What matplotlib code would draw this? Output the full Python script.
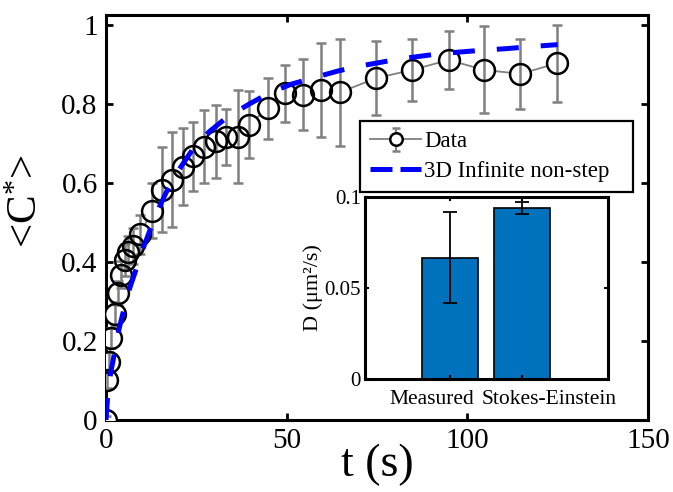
import numpy as np
import matplotlib
matplotlib.use('Agg')
import matplotlib.pyplot as plt

# ---- data ----
t_data = [0, 0.2, 0.8, 1.5, 2.4, 3.3, 4.2, 5.2, 6.0, 7.5, 9.5, 12.6, 15.5, 18.4,
          21.2, 24.0, 27.2, 30.5, 33.2, 36.5, 39.5, 44.8, 49.6, 54.6, 59.6, 64.7,
          74.7, 84.7, 94.8, 104.7, 114.7, 124.9]
c_data = [0, 0.10, 0.148, 0.208, 0.268, 0.321, 0.368, 0.405, 0.425, 0.440, 0.470,
          0.530, 0.583, 0.608, 0.641, 0.667, 0.692, 0.705, 0.717, 0.717, 0.747,
          0.789, 0.827, 0.823, 0.835, 0.829, 0.865, 0.886, 0.911, 0.886, 0.876, 0.903]
c_err = [0.01, 0.02, 0.025, 0.025, 0.03, 0.03, 0.035, 0.04, 0.04, 0.045, 0.05,
         0.07, 0.107, 0.12, 0.098, 0.088, 0.092, 0.092, 0.071, 0.118, 0.085,
         0.077, 0.072, 0.09, 0.12, 0.135, 0.093, 0.078, 0.074, 0.11, 0.089, 0.097]

t_fit = [0, 0.5, 1.3, 2.7, 3.6, 5.5, 6.6, 9.6, 10.5, 13.8, 16.6, 20.3, 24, 28.6,
         33.6, 39.7, 45.3, 51.3, 58.2, 64.5, 71, 77.7, 84, 90.6, 97.5, 104.4,
         111, 117.5, 125]
c_fit = [0, 0.065, 0.12, 0.185, 0.23, 0.30, 0.335, 0.415, 0.44, 0.52, 0.575,
         0.635, 0.685, 0.73, 0.767, 0.80, 0.828, 0.85, 0.868, 0.884, 0.897,
         0.908, 0.917, 0.925, 0.931, 0.936, 0.94, 0.945, 0.95]

bar_labels = ['Measured', 'Stokes-Einstein']
bar_values = [0.0667, 0.0941]
bar_errors = [0.025, 0.0032]

x_ticks = [0, 50, 100, 150]
y_ticks = [0, 0.2, 0.4, 0.6, 0.8, 1.0]
y_ticklabels = ['0', '0.2', '0.4', '0.6', '0.8', '1']
inset_yticks = [0, 0.05, 0.1]
inset_yticklabels = ['0', '0.05', '0.1']

# ---- style ----
plt.rcParams['font.family'] = ['Liberation Serif', 'DejaVu Serif']
plt.rcParams['mathtext.fontset'] = 'custom'
plt.rcParams['mathtext.rm'] = 'Liberation Serif'
plt.rcParams['mathtext.it'] = 'Liberation Serif:italic'

gray = '#808080'
fig = plt.figure(figsize=(6.73, 4.92), dpi=100)
ax = fig.add_axes([106 / 673, (492 - 420) / 492, 542 / 673, 405 / 492])

ax.plot(t_data, c_data, color=gray, lw=1.3, zorder=2)
ax.plot(t_data, c_data, 'o', ms=15, mfc='white', mec='none', zorder=3)
ax.errorbar(t_data, c_data, yerr=c_err, fmt='none', ecolor=gray, elinewidth=1.8,
            capsize=3.6, capthick=1.8, zorder=4)
ax.plot(t_data, c_data, 'o', ms=15, mfc='none', mec='black', mew=1.8, zorder=5)
ax.plot(t_fit, c_fit, color='blue', lw=3.6, ls=(0, (4.4, 4.4)), zorder=6)

ax.set_xlim(0, 150)
ax.set_ylim(0, 1.025)
ax.set_xticks(x_ticks)
ax.set_yticks(y_ticks)
ax.set_yticklabels(y_ticklabels)
ax.tick_params(direction='in', length=5, width=2, top=True, right=True,
               labelsize=21, pad=6)
for s in ax.spines.values():
    s.set_linewidth(2.2)
ax.set_xlabel('t (s)', fontsize=33, labelpad=-8)
ax.set_ylabel('<C$^{*}$>', fontsize=31)
ax.yaxis.set_label_coords(-0.11, 0.54)

# legend proxies
h_data = ax.errorbar([np.nan], [np.nan], yerr=[np.nan], fmt='-o', color=gray,
                     ms=9, mfc='white', mec='black', mew=1.8, lw=1.3,
                     elinewidth=1.5, capsize=3)
h_fit, = ax.plot([np.nan], [np.nan], color='blue', lw=3.6, ls=(0, (4.4, 1.6)))
leg_x0 = (360 - 106) / 542
leg_y0 = (420 - 189) / 405
leg_w = (633 - 360) / 542
leg_h = (189 - 121) / 405
leg = ax.legend([h_data, h_fit], ['Data', '3D Infinite non-step'],
                loc='upper left', bbox_to_anchor=(leg_x0, leg_y0, leg_w, leg_h),
                mode='expand', borderaxespad=0, fontsize=16.5, handlelength=2.2,
                handletextpad=0.15, borderpad=0.45, labelspacing=0.38,
                fancybox=False, framealpha=1, edgecolor='black')
leg.get_frame().set_linewidth(1.6)
leg.set_zorder(10)

# ---- inset ----
ins = fig.add_axes([365 / 673, (492 - 379) / 492, 243 / 673, 182 / 492])
ins.bar([1, 2], bar_values, width=0.78, color='#0072BD', edgecolor='black',
        linewidth=1.2, yerr=bar_errors, capsize=5,
        error_kw=dict(elinewidth=1.3, capthick=1.3, ecolor='black'))
ins.set_xlim(-0.18, 3.19)
ins.set_ylim(0, 0.1)
ins.set_xticks([1, 2])
ins.set_xticklabels(['', ''])
ins.set_yticks(inset_yticks)
ins.set_yticklabels(inset_yticklabels)
ins.tick_params(direction='in', length=3, width=1.5, top=True, right=True,
                labelsize=15, pad=3)
for s in ins.spines.values():
    s.set_linewidth(2.2)
ins.set_ylabel('D (μm²/s)', fontsize=16, labelpad=1)
# category labels sit side by side under the bars, as in the reference
ins.text((432 - 365) / 243, -21 / 182, bar_labels[0], transform=ins.transAxes,
         ha='center', va='center', fontsize=15.5)
ins.text((549 - 365) / 243, -21 / 182, bar_labels[1], transform=ins.transAxes,
         ha='center', va='center', fontsize=15.5)

fig.savefig('out.png', dpi=100)
